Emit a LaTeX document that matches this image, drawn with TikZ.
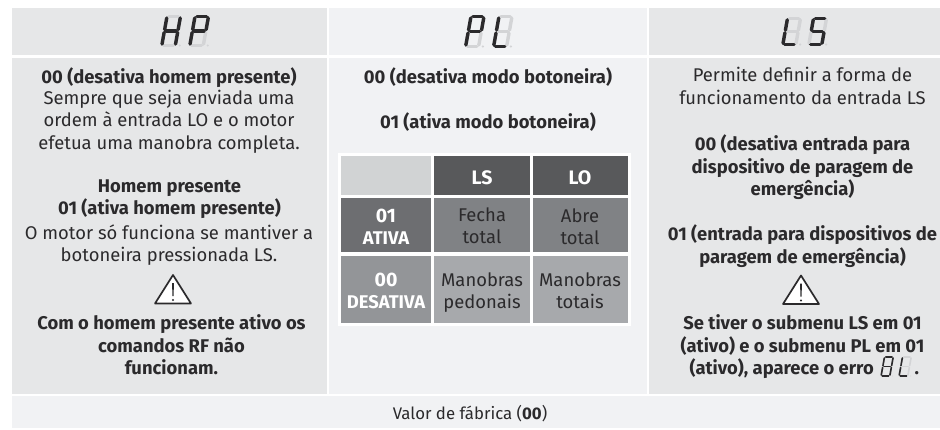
\documentclass[tikz,border=0pt]{standalone}
\usepackage{fontspec}
\setmainfont{Fira Sans}
\definecolor{bgA}{HTML}{E6E7E8}
\definecolor{bgB}{HTML}{F1F2F4}
\definecolor{txt}{HTML}{2B2A2C}
\definecolor{hdr}{HTML}{58595B}
\definecolor{rowA}{HTML}{6D6E71}
\definecolor{cellA}{HTML}{808285}
\definecolor{rowB}{HTML}{939598}
\definecolor{cellB}{HTML}{A7A9AC}
\definecolor{blank}{HTML}{D1D3D4}
\definecolor{dimseg}{HTML}{D3D4D6}
\def\segA{(.14,0)--(.86,0)}
\def\segB{(1,.1)--(1,.9)}
\def\segC{(1,1.1)--(1,1.9)}
\def\segD{(.14,2)--(.86,2)}
\def\segE{(0,1.1)--(0,1.9)}
\def\segF{(0,.1)--(0,.9)}
\def\segG{(.14,1)--(.86,1)}
% x, y (top-left of the unslanted digit), w, h, stroke, lit segments
\newcommand{\sevdigit}[6]{%
  \begin{scope}[shift={(#1,#2)},xslant=.18,xscale=#3,yscale=#4/2,line width=#5pt,line cap=round]
    \foreach \s in {A,B,C,D,E,F,G}{\draw[dimseg] \csname seg\s\endcsname;}
    \draw[dimseg,line width=#5*.7pt] (1.33,2)--(1.33,2);
    \foreach \s in {#6}{\draw[txt] \csname seg\s\endcsname;}
  \end{scope}}
\newcommand{\warnsign}[2]{%
  \draw[txt,fill=white,line width=1.7pt,line join=round] (#1,#2) -- (#1+18,#2+28.5) -- (#1-18,#2+28.5) -- cycle;
  \fill[txt] (#1-.9,#2+8) -- (#1+.9,#2+8) -- (#1+.6,#2+21) -- (#1-.6,#2+21) -- cycle;
  \fill[txt] (#1,#2+25) circle[radius=1.2pt];}
\tikzset{
  x=1pt,y=-1pt,
  para/.style={font=\fontsize{18.4}{22.5}\selectfont,text=txt,align=center,inner sep=0pt,anchor=north,execute at begin node=\rule{0pt}{15pt}},
  boldpara/.style={para,font=\fontsize{18.4}{22.5}\selectfont\bfseries},
  tcell/.style={font=\fontsize{18.4}{22}\selectfont,text=txt,align=center,inner sep=0pt,anchor=north,execute at begin node=\rule{0pt}{15pt}},
  wcell/.style={tcell,text=white,font=\fontsize{19.5}{22}\selectfont\bfseries},
}
\begin{document}
\begin{tikzpicture}
\useasboundingbox (0,0) rectangle (940,429);
% panels
\fill[bgA] (12,8) rectangle (327,55);
\fill[bgB] (329,8) rectangle (647,55);
\fill[bgA] (649,8) rectangle (940,55);
\fill[bgA] (12,58) rectangle (327,394);
\fill[bgB] (329,58) rectangle (647,394);
\fill[bgA] (649,58) rectangle (940,394);
\fill[bgB] (12,396) rectangle (940,428);
% header displays
\sevdigit{167}{16.5}{13.5}{29}{3.4}{B,C,E,F,G}
\sevdigit{195}{16.5}{13.5}{29}{3.4}{A,B,E,F,G}
\sevdigit{471}{16.5}{13}{30}{3.4}{A,B,E,F,G}
\sevdigit{499}{16.5}{13}{30}{3.4}{D,E,F}
\sevdigit{787.5}{18.5}{13}{26}{3.4}{D,E,F}
\sevdigit{813.5}{18.5}{13}{26}{3.4}{A,C,D,F,G}
% column 1
\node[boldpara] (a1) at (169,67) {00 (desativa homem presente)};
\node[para] (a2) at (169,89.5) {Sempre que seja enviada uma\\ordem à entrada LO e o motor\\efetua uma manobra completa.};
\node[boldpara] (a3) at (169.5,179.5) {Homem presente\\01 (ativa homem presente)};
\node[para] (a4) at (169,224.5) {O motor só funciona se mantiver a\\botoneira pressionada LS.};
\warnsign{173}{275}
\node[boldpara] (a5) at (171.5,314.5) {Com o homem presente ativo os\\comandos RF não\\funcionam.};
% column 2
\node[boldpara] (b1) at (488,67) {00 (desativa modo botoneira)};
\node[boldpara] (b2) at (488,112) {01 (ativa modo botoneira)};
% table
\fill[white] (338,153) rectangle (631,326);
\fill[blank] (341,156) rectangle (431,195);
\fill[hdr] (434,156) rectangle (530,195);
\fill[hdr] (533,156) rectangle (628,195);
\fill[rowA] (341,198) rectangle (431,252);
\fill[cellA] (434,198) rectangle (530,252);
\fill[cellA] (533,198) rectangle (628,252);
\fill[rowB] (341,256) rectangle (431,323);
\fill[cellB] (434,256) rectangle (530,323);
\fill[cellB] (533,256) rectangle (628,323);
\node[wcell] (h1) at (482,169) {LS};
\node[wcell] (h2) at (580,169) {LO};
\node[wcell] (r1) at (386,209) {01\\{\fontsize{18.4}{22}\selectfont ATIVA}};
\node[wcell] (r2) at (386,273) {00\\{\fontsize{18.4}{22}\selectfont DESATIVA}};
\node[tcell] (c1) at (482,208) {Fecha\\total};
\node[tcell] (c2) at (580,208) {Abre\\total};
\node[tcell] (c3) at (482,272) {Manobras\\pedonais};
\node[tcell] (c4) at (580,272) {Manobras\\totais};
% column 3
\node[para] (d1) at (802.5,67) {Permite definir a forma de\\funcionamento da entrada LS};
\node[boldpara] (d2) at (802.5,134.5) {00 (desativa entrada para\\dispositivo de paragem de\\emergência)};
\node[boldpara] (d3) at (802.5,224.5) {01 (entrada para dispositivos de\\paragem de emergência)};
\warnsign{801}{275.5}
\node[boldpara] (d4) at (802.5,314.5) {Se tiver o submenu LS em 01\\(ativo) e o submenu PL em 01};
\node[boldpara,anchor=base east] (d5) at (874,374.5) {(ativo), aparece o erro};
\sevdigit{884.5}{357}{8.7}{19}{1.6}{A,B,C,D,E,F,G}
\sevdigit{902.5}{357}{8.7}{19}{1.6}{D,E,F}
\node[boldpara,anchor=base west] (d6) at (914.5,374.5) {.};
% footer
\node[font=\fontsize{16.8}{20}\selectfont,text=txt,inner sep=0pt] (f) at (470,414) {Valor de fábrica (\textbf{00})};
\end{tikzpicture}
\end{document}
